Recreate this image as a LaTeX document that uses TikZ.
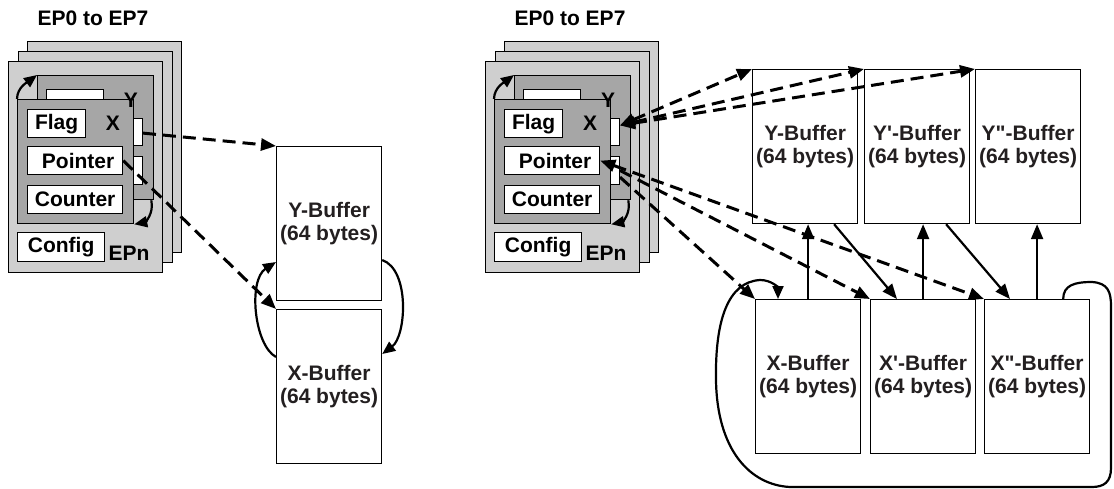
\documentclass[tikz,border=0pt]{standalone}
\usepackage{fontspec}
\newfontfamily\epfont{Liberation Sans}
\usetikzlibrary{arrows.meta,calc,positioning}
\definecolor{epsheet}{HTML}{CFCFCF}
\definecolor{eppanel}{HTML}{A6A6A6}
\definecolor{epink}{HTML}{231F20}

\begin{document}
\begin{tikzpicture}[line join=miter,
  font=\epfont\bfseries\fontsize{21}{23.5}\selectfont,text=epink,
  >={Triangle[length=15pt,width=12pt]},
  sheet/.style={draw,fill=epsheet,line width=1.3pt,anchor=north west,inner sep=0pt,minimum width=154pt,minimum height=211pt},
  panel/.style={draw,fill=eppanel,line width=1.3pt,anchor=north west,inner sep=0pt,minimum width=116pt,minimum height=124pt},
  field/.style={draw,fill=white,line width=1.3pt,anchor=north west,inner sep=0pt,minimum height=28pt,text=black},
  slot/.style={draw,fill=white,line width=1pt,anchor=north west,inner sep=0pt,minimum width=22pt,minimum height=27pt},
  buffer/.style={draw,fill=white,line width=1.2pt,anchor=north west,inner sep=0pt,minimum width=105pt,minimum height=154pt,align=center},
  ptrline/.style={->,line width=3pt,dash pattern=on 13pt off 7pt},
  flow/.style={->,line width=2.2pt},
  swap/.style={-{Triangle[length=13pt,width=11pt]},line width=2.2pt}]
\begin{scope}[x=1pt,y=-1pt]
  \path[use as bounding box] (0,0) rectangle (1114,489);
  % two copies of the endpoint register stack
  \foreach \s/\dx in {l/0,r/477}{
    \begin{scope}[shift={(\dx,0)}]
      \node[black] (\s-title) at (93,18) {EP0 to EP7};
      \node[sheet] (\s-sheet3) at (27,41) {};
      \node[sheet] (\s-sheet2) at (17.5,51) {};
      \node[sheet] (\s-sheet1) at (8,61) {};
      % Y register set, behind
      \node[panel] (\s-bpanel) at (37,75) {};
      \node[field,minimum width=57pt,minimum height=30pt] (\s-bfield) at (46,89) {};
      \node[slot] (\s-xslot) at (120,118) {};
      \node[slot,minimum height=28pt] (\s-yslot) at (120,156) {};
      % X register set, in front
      \node[panel] (\s-fpanel) at (17,99) {};
      \node[field,minimum width=58pt] (\s-flag) at (27,109) {Flag};
      \node[field,minimum width=95pt] (\s-ptr) at (27,146) {\hspace*{6pt}Pointer};
      \node[field,minimum width=95pt] (\s-cnt) at (27,185) {Counter};
      \node[field,minimum width=87pt,minimum height=29pt] (\s-cfg) at (17,232) {Config};
      \node[black] (\s-ylab) at (131,100) {Y};
      \node[black] (\s-xlab) at (113,123) {X};
      \node[black] (\s-eplab) at (129,253) {EPn};
      \draw[swap] (\s-fpanel.north west) .. controls +(0,-12) and +(-8,6) .. (\s-bpanel.north west);
      \draw[swap] ($(\s-bpanel.south east)+(-3,0)$) .. controls +(3,14) and +(10,-2) .. (\s-fpanel.south east);
    \end{scope}
  }
  % double buffering
  \node[buffer] (lyb) at (276,146) {Y-Buffer\\(64 bytes)};
  \node[buffer] (lxb) at (276,309) {X-Buffer\\(64 bytes)};
  \draw[ptrline] (l-xslot) -- (lyb.north west);
  \draw[ptrline] (l-ptr.east) -- (lxb.north west);
  \draw[swap] ($(lxb.north west)+(0,48)$) .. controls +(-22,-12) and +(-28,18) .. ($(lyb.north west)+(0,116)$);
  \draw[swap] ($(lyb.north east)+(0,114)$) .. controls +(28,10) and +(24,-18) .. ($(lxb.north east)+(0,45)$);
  % triple buffering
  \node[buffer] (ry1) at (752,69) {Y-Buffer\\(64 bytes)};
  \node[buffer] (ry2) at (864,69) {Y'-Buffer\\(64 bytes)};
  \node[buffer] (ry3) at (975,69) {Y"-Buffer\\(64 bytes)};
  \node[buffer] (rx1) at (755,299) {X-Buffer\\(64 bytes)};
  \node[buffer] (rx2) at (870,299) {X'-Buffer\\(64 bytes)};
  \node[buffer] (rx3) at (984,299) {X"-Buffer\\(64 bytes)};
  \foreach \b in {ry1,ry2,ry3}
    \draw[ptrline,<->] (r-xslot.30) -- (\b.north west);
  \draw[ptrline,<->] (r-ptr.east) -- (rx3.north west);
  \draw[ptrline] (r-yslot.east) -- (rx2.north west);
  \draw[ptrline] (r-yslot.-30) -- (rx1.north west);
  \foreach \i in {1,2,3}
    \draw[flow] (rx\i.north) -- (rx\i.north |- ry\i.south);
  \draw[flow] ($(ry1.south)+(29,0)$) -- ($(rx2.north west)+(27,0)$);
  \draw[flow] ($(ry2.south)+(29,0)$) -- ($(rx3.north west)+(26,0)$);
  \draw[swap] ($(rx3.north east)+(-27,0)$) .. controls +(0,-14) and (1075,282) .. (1092,282)
    .. controls (1108,283) and (1111,292) .. (1111,306) -- (1111,468)
    .. controls (1111,482) and (1104,487) .. (1092,487) -- (790,487)
    .. controls (750,485) and (717,450) .. (716,380)
    .. controls (715,320) and (728,282) .. (760,280)
    .. controls (772,280) and (778,288) .. ($(rx1.north west)+(23,0)$);
\end{scope}
\end{tikzpicture}
\end{document}
